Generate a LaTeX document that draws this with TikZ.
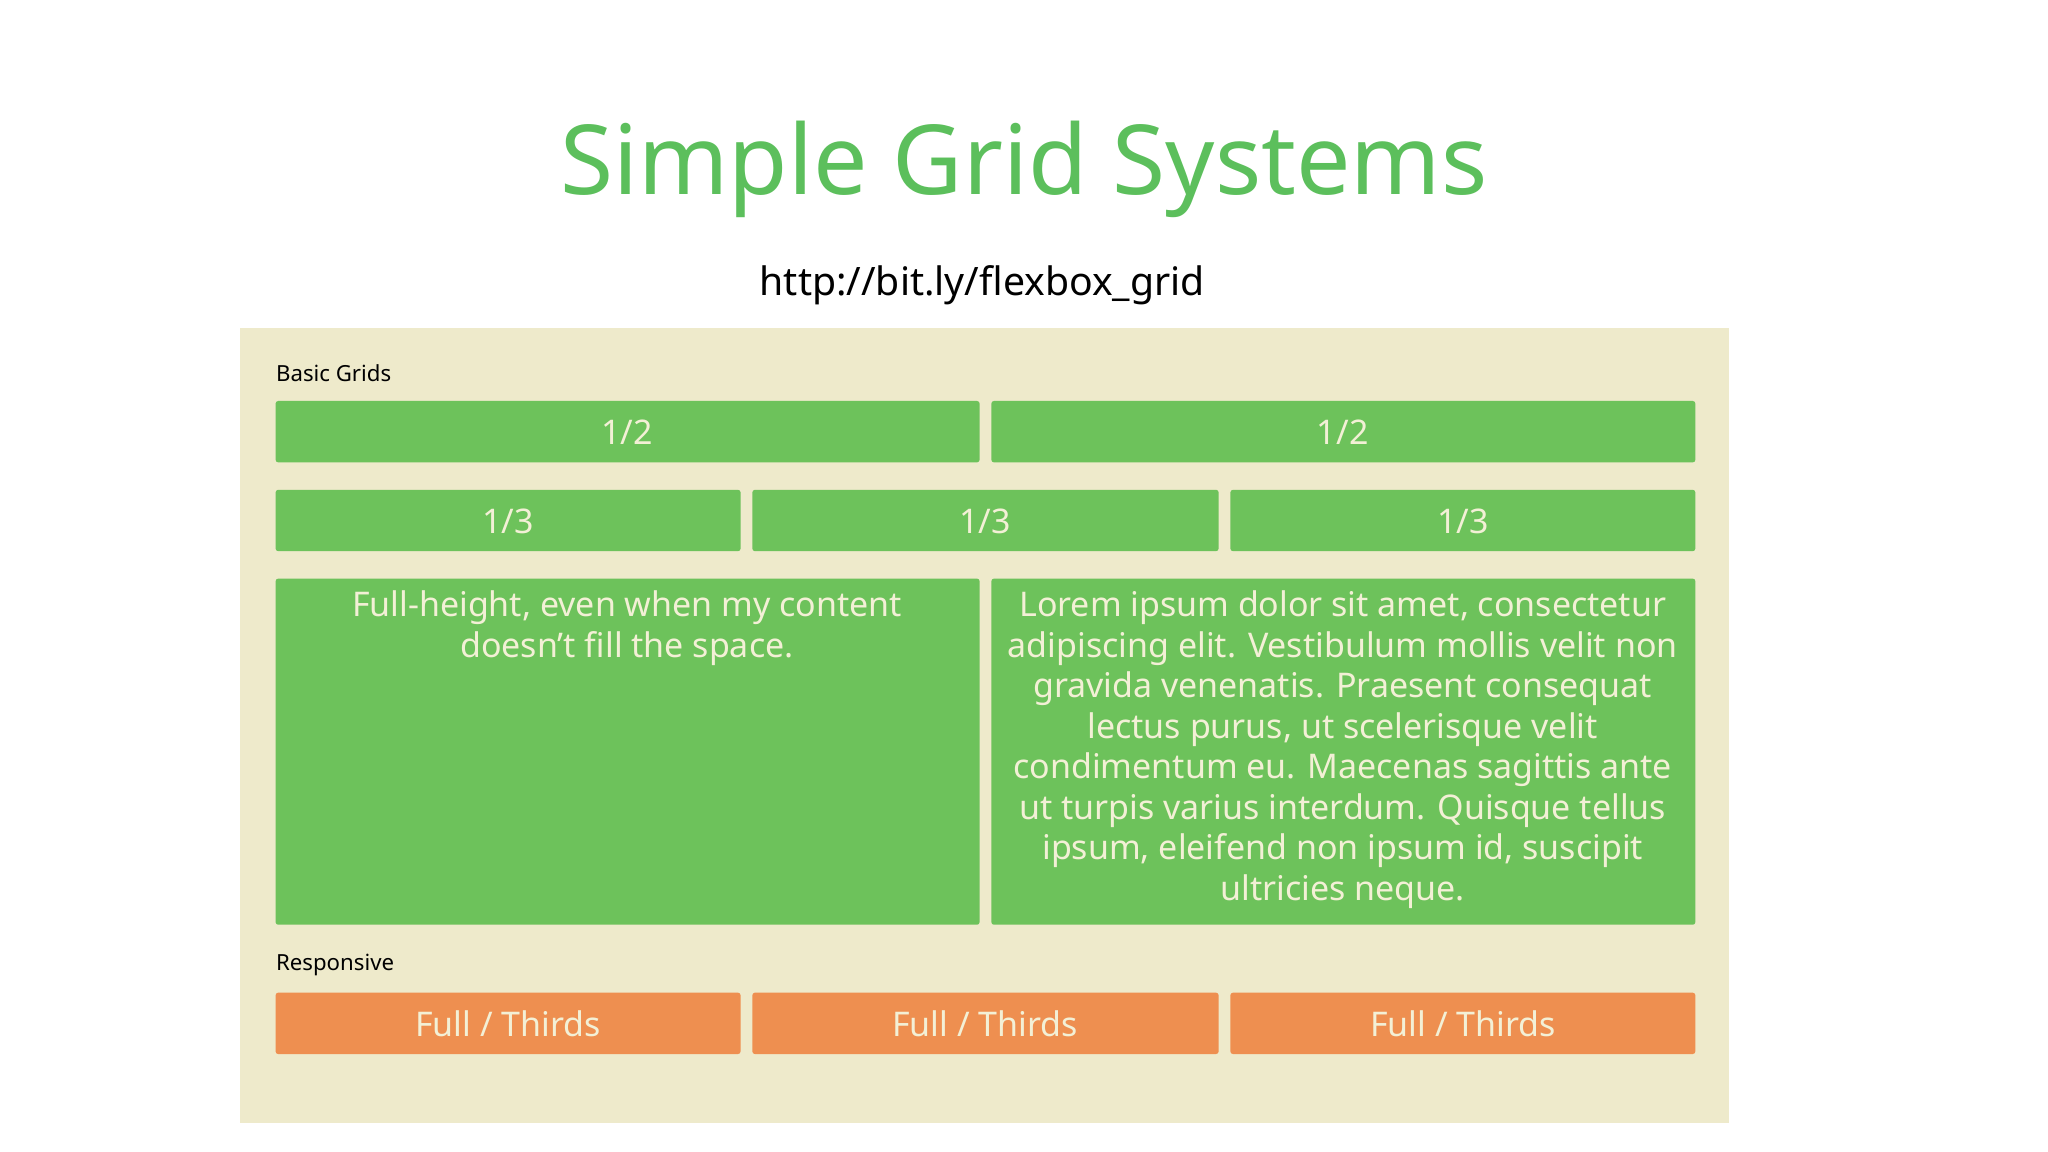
\documentclass[tikz,border=0pt]{standalone}
\usepackage{fontspec}
\setmainfont{Noto Sans}
\definecolor{ttl}{HTML}{5CBF5C}
\definecolor{pan}{HTML}{EEEACB}
\definecolor{grn}{HTML}{6DC25B}
\definecolor{org}{HTML}{EE8F50}
\definecolor{txt}{HTML}{F3F0D6}
\begin{document}
\begin{tikzpicture}[x=0.5pt,y=-0.5pt,
  box/.style={fill=grn,draw=none,rounded corners=1pt},
  obox/.style={fill=org,draw=none,rounded corners=1pt},
  lbl/.style={text=txt,font=\fontsize{13}{15.5}\selectfont,align=center},
  hd/.style={anchor=west,inner sep=0pt,font=\fontsize{8.5}{10}\selectfont\bfseries}]
\useasboundingbox (0,0) rectangle (1568,882);
\fill[pan] (184,251) rectangle (1324,860);
\node[text=ttl,font=\fontsize{37}{44}\selectfont] (title) at (784,130) {Simple Grid Systems};
\node[font=\fontsize{15}{18}\selectfont] (url) at (752,218) {http://bit.ly/flexbox\_grid};
\node[hd] (bg) at (211,286) {Basic Grids};
\node[hd] (rs) at (211,739) {Responsive};
\fill[box] (211,307) rectangle (750,354); \node[lbl] (a1) at (480,331) {1/2};
\fill[box] (759,307) rectangle (1298,354); \node[lbl] (a2) at (1028,331) {1/2};
\fill[box] (211,375) rectangle (567,422); \node[lbl] (b1) at (389,399) {1/3};
\fill[box] (576,375) rectangle (933,422); \node[lbl] (b2) at (754,399) {1/3};
\fill[box] (942,375) rectangle (1298,422); \node[lbl] (b3) at (1120,399) {1/3};
\fill[box] (211,443) rectangle (750,708);
\node[lbl,anchor=north,inner sep=0pt] (c1) at (480,452) {Full-height, even when my content\\doesn't fill the space.};
\fill[box] (759,443) rectangle (1298,708);
\node[lbl,anchor=north,inner sep=0pt] (c2) at (1028,452) {Lorem ipsum dolor sit amet, consectetur\\adipiscing elit. Vestibulum mollis velit non\\gravida venenatis. Praesent consequat\\lectus purus, ut scelerisque velit\\condimentum eu. Maecenas sagittis ante\\ut turpis varius interdum. Quisque tellus\\ipsum, eleifend non ipsum id, suscipit\\ultricies neque.};
\fill[obox] (211,760) rectangle (567,807); \node[lbl] (d1) at (389,784) {Full / Thirds};
\fill[obox] (576,760) rectangle (933,807); \node[lbl] (d2) at (754,784) {Full / Thirds};
\fill[obox] (942,760) rectangle (1298,807); \node[lbl] (d3) at (1120,784) {Full / Thirds};
\end{tikzpicture}
\end{document}
